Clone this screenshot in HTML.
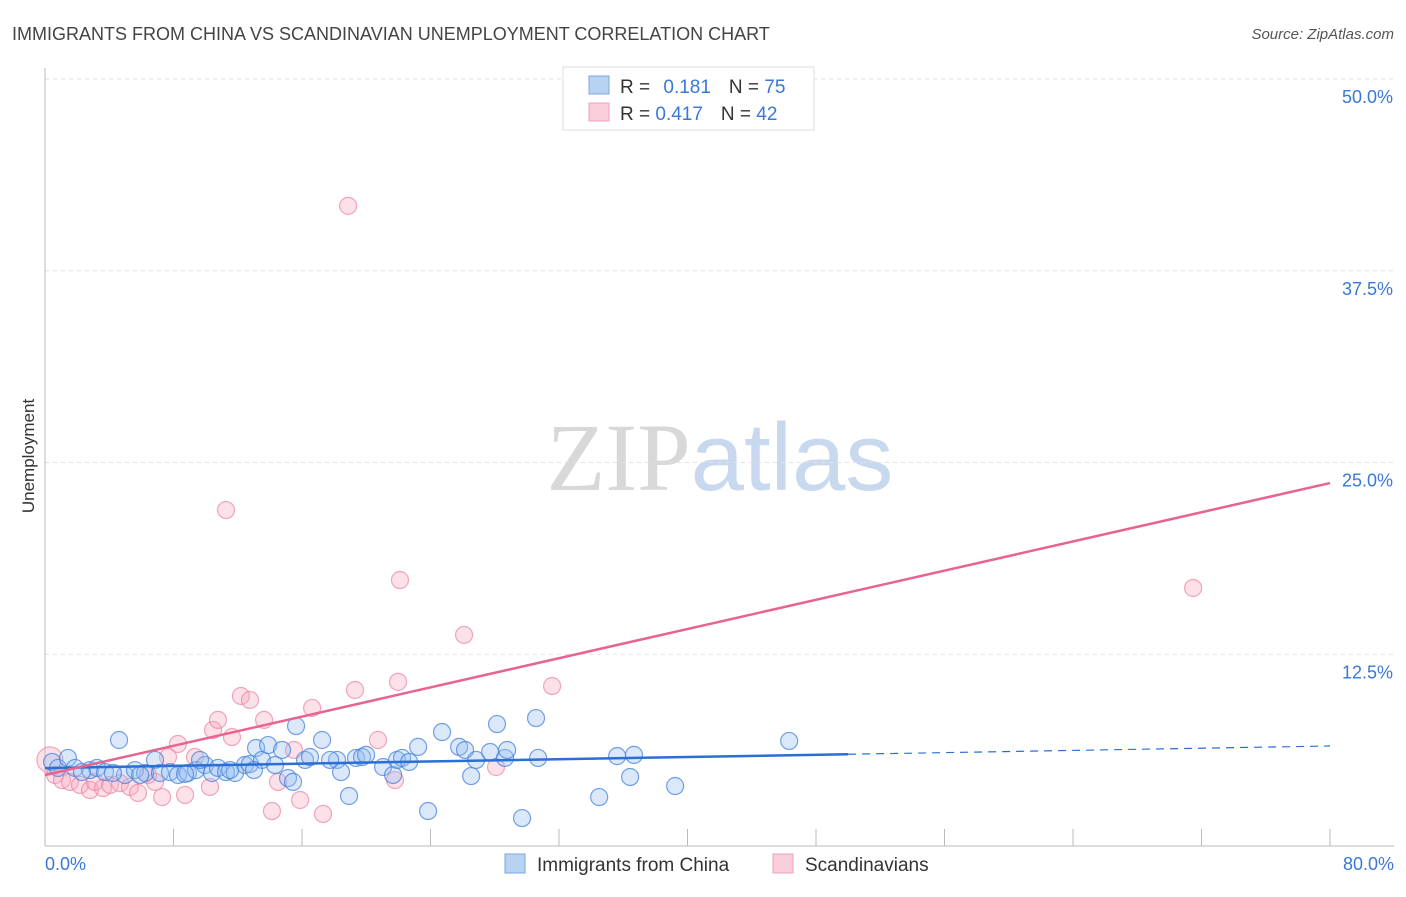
<!DOCTYPE html>
<html><head><meta charset="utf-8"><style>
body{margin:0;background:#fff;font-family:"Liberation Sans",sans-serif;}
svg text{font-family:"Liberation Sans",sans-serif;}
</style></head><body>
<svg id="chart" width="1406" height="892" viewBox="0 0 1406 892" xmlns="http://www.w3.org/2000/svg">
<text x="12" y="40" font-size="18" fill="#444">IMMIGRANTS FROM CHINA VS SCANDINAVIAN UNEMPLOYMENT CORRELATION CHART</text>
<text x="1394" y="39" font-size="15" fill="#555" font-style="italic" text-anchor="end">Source: ZipAtlas.com</text>
<text x="720" y="490" font-size="96" text-anchor="middle"><tspan fill="#d8d8d8" font-family="Liberation Serif">ZIP</tspan><tspan fill="#c8d8ee">atlas</tspan></text>
<g id="grid"></g>
<g id="axes"></g>
<g id="marks"></g>
<text transform="translate(34,456) rotate(-90)" font-size="17" fill="#333" text-anchor="middle">Unemployment</text>
<g>
<rect x="563" y="67" width="251" height="63" fill="#fff" stroke="#ddd"/>
<rect x="589" y="76" width="20" height="18" fill="#b8d2f2" stroke="#7aa6e0"/>
<rect x="589" y="103" width="20" height="18" fill="#f9cdd9" stroke="#f0a0b8"/>
<text x="620" y="93" font-size="19" fill="#333">R = <tspan fill="#3a78d8" dx="8">0.181</tspan><tspan dx="18" fill="#333">N = </tspan><tspan fill="#3a78d8">75</tspan></text>
<text x="620" y="120" font-size="19" fill="#333">R = <tspan fill="#3a78d8">0.417</tspan><tspan dx="18" fill="#333">N = </tspan><tspan fill="#3a78d8">42</tspan></text>
</g>
<g>
<rect x="505" y="854" width="20" height="19" fill="#b8d2f2" stroke="#7aa6e0"/>
<text x="537" y="871" font-size="19" fill="#333">Immigrants from China</text>
<rect x="773" y="854" width="20" height="19" fill="#f9cdd9" stroke="#f0a0b8"/>
<text x="805" y="871" font-size="19" fill="#333">Scandinavians</text>
</g>
</svg>
<script>
const yTicks=[12.5,25,37.5,50];
const yTickLabels=["12.5%","25.0%","37.5%","50.0%"];
const xTicks=[0,8,16,24,32,40,48,56,64,72,80];
const chinaX=[0.44,0.81,1.43,1.87,2.80,3.24,3.74,4.61,4.98,5.60,6.23,6.85,7.16,7.78,8.28,8.90,9.40,9.96,10.40,10.77,11.27,11.83,12.45,12.76,13.14,13.51,13.89,14.32,14.76,15.13,15.44,15.63,16.19,16.50,17.25,18.18,18.43,18.93,19.36,19.74,19.99,21.05,21.67,21.92,22.23,22.67,23.23,23.85,24.72,25.78,26.15,26.53,26.84,27.71,28.14,28.64,28.77,29.70,30.70,34.50,35.62,36.43,36.67,39.23,46.33,2.30,4.23,5.92,8.72,11.52,9.65,13.01,17.75,30.57];
const chinaY=[5.48,5.09,5.74,5.09,4.95,5.09,4.82,6.91,4.63,4.95,4.76,5.61,4.76,4.82,4.63,4.76,4.95,5.28,4.76,5.09,4.82,4.76,5.28,5.34,6.39,5.61,6.58,5.28,6.26,4.43,4.18,7.82,5.61,5.80,6.91,5.61,4.82,3.26,5.74,5.80,5.94,5.15,4.63,5.61,5.74,5.48,6.46,2.28,7.43,6.46,6.26,4.56,5.61,6.13,7.95,5.74,6.26,1.82,5.74,3.19,5.86,4.50,5.94,3.91,6.85,4.82,4.76,4.63,4.70,4.95,5.61,4.95,5.61,8.34];
const scanX=[0.31,0.62,1.06,1.56,2.18,2.80,3.11,3.61,4.05,4.67,5.29,5.79,6.41,6.85,7.29,7.66,8.28,8.72,9.34,10.27,10.46,10.77,11.27,11.64,12.20,12.76,13.64,14.51,14.13,15.50,15.88,16.63,17.31,18.87,19.30,20.73,21.79,21.98,22.10,26.09,28.08,31.57,71.48];
const scanY=[5.61,4.63,4.30,4.18,3.98,3.65,4.18,3.78,3.98,4.10,3.85,3.46,4.63,4.18,3.19,5.80,6.65,3.33,5.80,3.85,7.56,8.22,21.90,7.10,9.78,9.52,8.22,4.18,2.28,6.26,3.00,9.00,2.09,41.73,10.17,6.91,4.30,10.70,17.34,13.76,5.15,10.43,16.82];
const chinaTrend=[5.08,6.52];
const scanTrend=[4.63,23.66];
const NS="http://www.w3.org/2000/svg";
const X=v=>45+v*(1330-45)/80;
const Y=v=>846-v*(846-79)/50;
function mk(p,t,a){const e=document.createElementNS(NS,t);for(const k in a)e.setAttribute(k,a[k]);p.appendChild(e);return e;}
const grid=document.getElementById('grid'),axes=document.getElementById('axes'),marks=document.getElementById('marks');
yTicks.forEach((t,i)=>{
 const l=mk(grid,'line',{x1:45,x2:1394,y1:Y(t),y2:Y(t),stroke:'#e2e2e2','stroke-dasharray':'4,4'});
 
 
 const tx=mk(axes,'text',{x:1393,y:Y(t)+24,'font-size':18,fill:'#3a78d8','text-anchor':'end'});
 tx.textContent=yTickLabels[i];
 
 
});
const ax=mk(axes,'line',{x1:45,x2:1394,y1:846,y2:846,stroke:'#bbb'});


const ay=mk(axes,'line',{x1:45,x2:45,y1:68,y2:846,stroke:'#bbb'});


xTicks.forEach(t=>{const l=mk(axes,'line',{x1:X(t),x2:X(t),y1:829,y2:846,stroke:'#bbb'});
 
 });
[[0,'0.0%','start',45],[80,'80.0%','end',1394]].forEach(d=>{const t=mk(axes,'text',{x:d[3],y:870,'font-size':18,fill:'#3a78d8','text-anchor':d[2]});t.textContent=d[1];
 
 });
scanX.forEach((x,i)=>{const c=mk(marks,'circle',{cx:X(x),cy:Y(scanY[i]),r:i==0?13:8.5,fill:'rgba(246,170,192,0.35)',stroke:'rgba(236,130,160,0.7)','stroke-width':1.2});
 
 });
chinaX.forEach((x,i)=>{const c=mk(marks,'circle',{cx:X(x),cy:Y(chinaY[i]),r:8.5,fill:'rgba(150,190,240,0.35)',stroke:'rgba(70,130,220,0.75)','stroke-width':1.2});
 
 });
const cy=x=>chinaTrend[0]+(chinaTrend[1]-chinaTrend[0])*x/80;
const t1=mk(marks,'line',{x1:X(0),y1:Y(cy(0)),x2:X(50),y2:Y(cy(50)),stroke:'#2a6fd6','stroke-width':2.5});


const t2=mk(marks,'line',{x1:X(50),y1:Y(cy(50)),x2:X(80),y2:Y(cy(80)),stroke:'#2a6fd6','stroke-width':1.2,'stroke-dasharray':'8,6'});


const t3=mk(marks,'line',{x1:X(0),y1:Y(scanTrend[0]),x2:X(80),y2:Y(scanTrend[1]),stroke:'#e8648f','stroke-width':2.5});


</script>
</body></html>
